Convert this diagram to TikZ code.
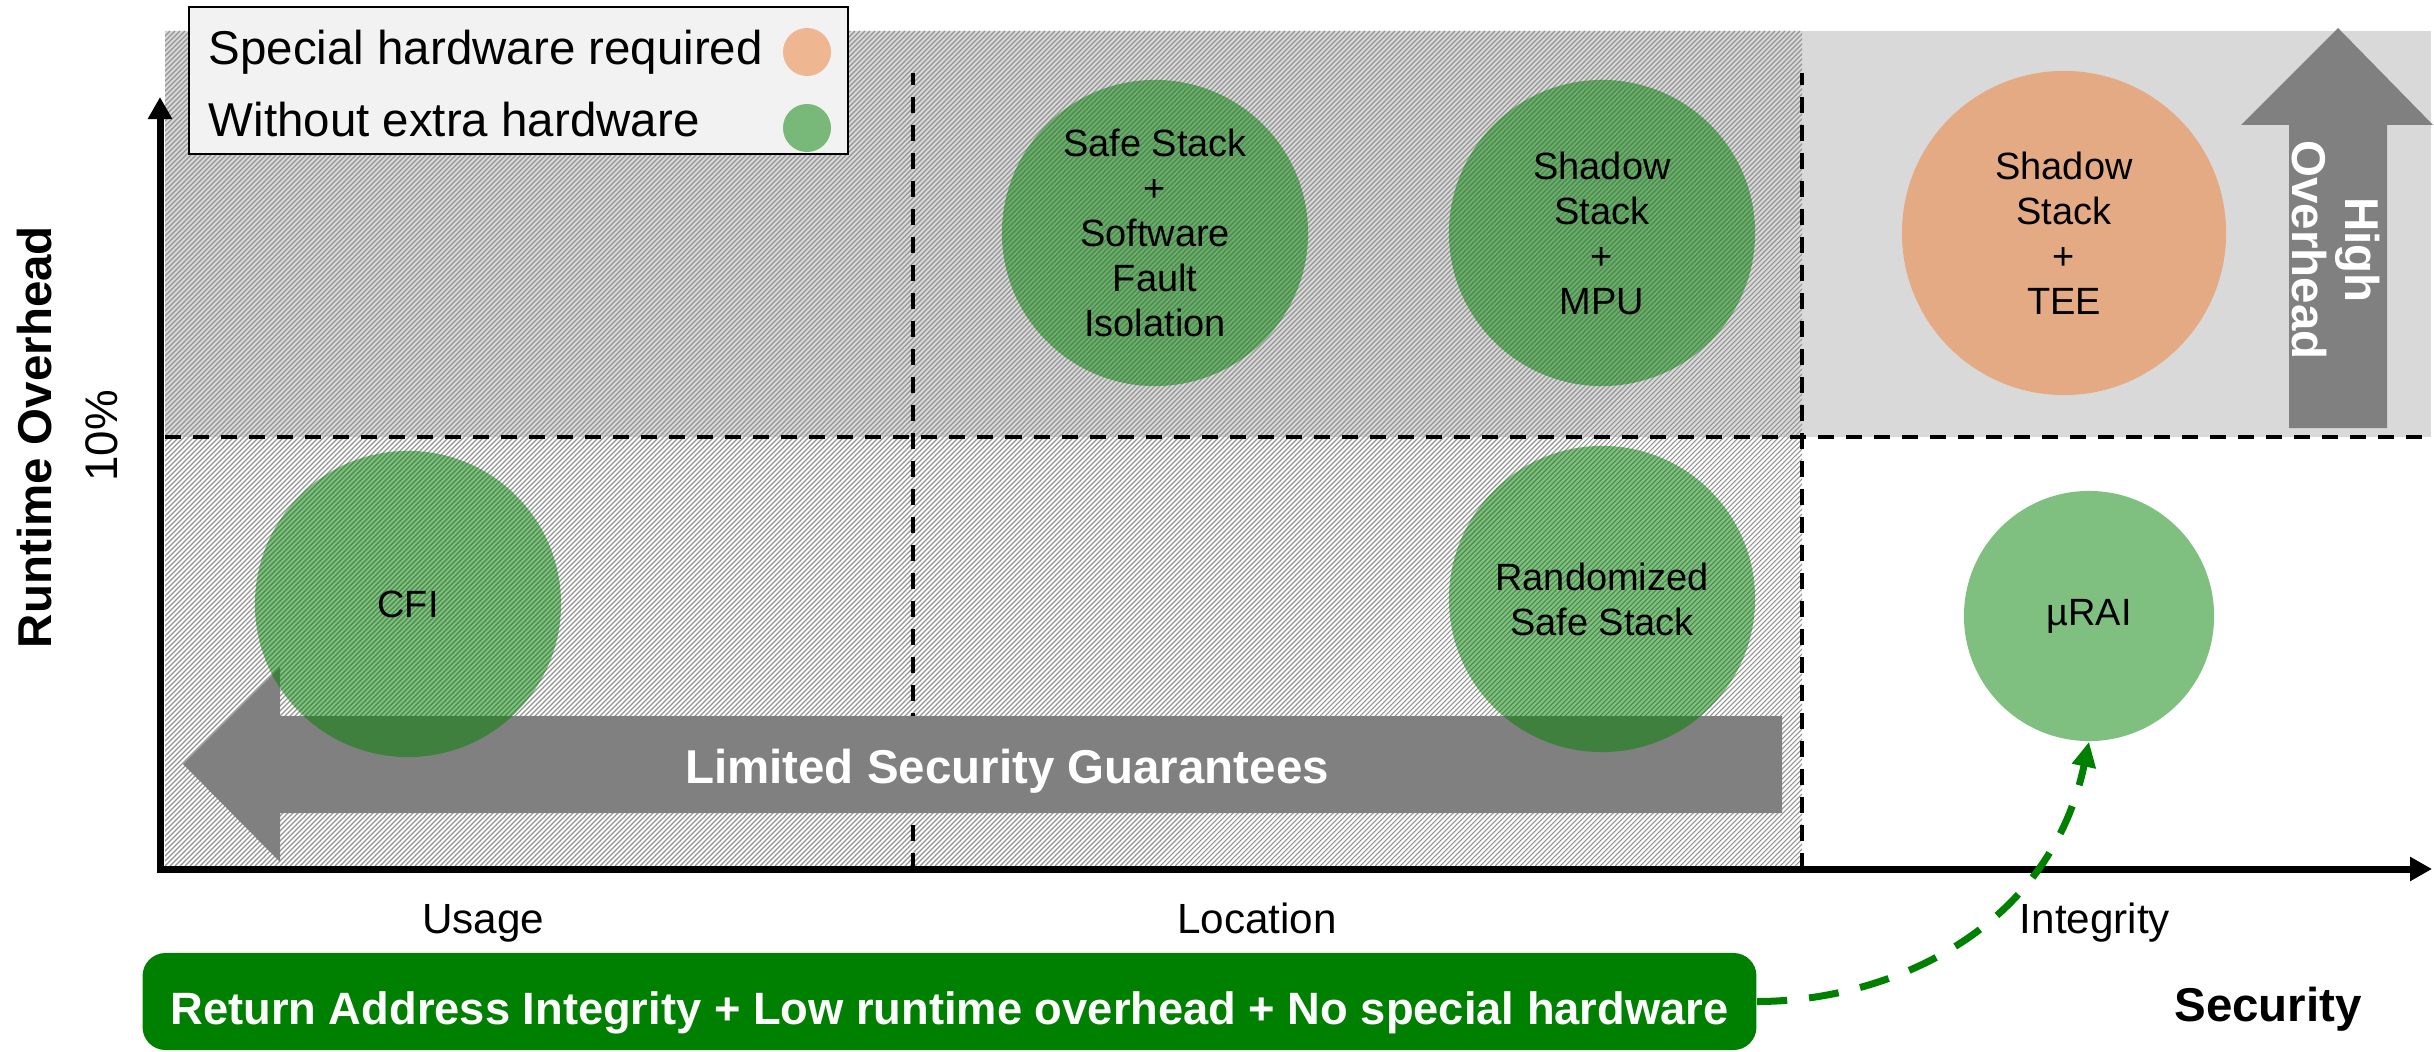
\documentclass[tikz,border=0pt]{standalone}
\usepackage{fontspec}
\setmainfont{Liberation Sans}
\usetikzlibrary{arrows.meta}

\definecolor{schemegreen}{HTML}{008000}
\definecolor{schemeorange}{HTML}{ED7D31}
\definecolor{panelgray}{HTML}{D9D9D9}
\definecolor{legendgray}{HTML}{F2F2F2}
\definecolor{arrowgray}{HTML}{808080}

\newcommand\legendfont{\fontsize{13.5}{16}\selectfont}
\newcommand\circfont{\fontsize{10.8}{12.8}\selectfont}
\newcommand\tickfont{\fontsize{12}{14}\selectfont}
\newcommand\rabfont{\fontsize{12.88}{15}\selectfont}

\tikzset{
  hatchline/.style={black!42, line width=0.011cm},
  divider/.style={black, line width=0.04cm, dash pattern=on 0.16cm off 0.12cm},
  axisline/.style={black, line width=0.07cm,
    {Triangle[length=0.22cm,width=0.23cm]}-{Triangle[length=0.22cm,width=0.23cm]}},
  scheme/.style={circle, inner sep=0pt, minimum size=3.06cm, fill=schemegreen,
    fill opacity=0.5, text opacity=1, align=center, font=\circfont},
  bannertext/.style={white, font=\legendfont\bfseries, inner sep=0pt},
  plain/.style={inner sep=0pt, font=\legendfont},
  dot/.style={circle, inner sep=0pt, minimum size=0.48cm, fill opacity=0.5},
  link/.style={schemegreen, line width=0.07cm, dash pattern=on 0.3cm off 0.22cm,
    -{Triangle[length=0.25cm,width=0.23cm]}},
}

\begin{document}
\begin{tikzpicture}[x=0.01cm, y=-0.01cm]
\useasboundingbox (0,0) rectangle (2434,1052);

% high-overhead band
\fill[panelgray] (165,31) rectangle (2431,437);

% hatched area: techniques without full integrity
\begin{scope}
  \clip (165,31) rectangle (1802,866);
  \foreach \k in {-675,-670,...,1805}
    \draw[hatchline] (\k,866) -- ++(835,-835);
\end{scope}

% quadrant dividers
\draw[divider] (165,437) -- (2431,437);
\draw[divider] (913,869) -- (913,73);
\draw[divider] (1802,869) -- (1802,73);

% axes
\coordinate (ytip) at (160,97);
\coordinate (origin) at (160,869);
\coordinate (xtip) at (2432,869);
\draw[axisline] (ytip) -- (origin) -- (xtip);

% limited security arrow
\fill[arrowgray] (183,764) -- (280,667) -- (280,716) -- (1782,716) -- (1782,813)
  -- (280,813) -- (280,862) -- cycle;
\node[bannertext, anchor=base] (limited) at (1007,783) {Limited Security Guarantees};

% high overhead arrow
\fill[arrowgray] (2338,28) -- (2433,125) -- (2387,125) -- (2387,428) -- (2289,428)
  -- (2289,125) -- (2241,125) -- cycle;
\node[bannertext, rotate=-90, align=center, font=\fontsize{13.5}{15}\selectfont\bfseries]
  (high) at (2336,250) {High\\Overhead};

% schemes
\node[scheme] (sfi) at (1155,233) {Safe Stack\\+\\Software\\Fault\\Isolation};
\node[scheme] (ssmpu) at (1602,233) {Shadow\\Stack\\+\\MPU};
\node[scheme, fill=schemeorange, minimum size=3.24cm] (sstee) at (2064,233) {Shadow\\Stack\\+\\TEE};
\node[scheme] (cfi) at (408,604) {CFI};
\node[scheme] (rss) at (1602,599) {Randomized\\Safe Stack};
\node[scheme, minimum size=2.5cm] (urai) at (2089,616) {µRAI};

% legend
\node[draw=black, line width=0.02cm, fill=legendgray, minimum width=6.59cm,
  minimum height=1.47cm, inner sep=0pt] (legend) at (518.5,80.5) {};
\node[plain, anchor=base west] (hwtext) at (208,65) {Special hardware required};
\node[plain, anchor=base west] (nohwtext) at (208,137) {Without extra hardware};
\node[dot, fill=schemeorange] (hwdot) at (807,52) {};
\node[dot, fill=schemegreen] (nohwdot) at (807,128) {};

% axis labels
\node[plain, font=\legendfont\bfseries, rotate=90] (ylabel) at (35,437) {Runtime Overhead};
\node[plain, font=\fontsize{13}{15}\selectfont, rotate=90] (tenpct) at (102,436) {10\%};
\node[plain, font=\tickfont, anchor=base] (usage) at (483,933) {Usage};
\node[plain, font=\tickfont, anchor=base] (location) at (1257,933) {Location};
\node[plain, font=\tickfont, anchor=base] (integrity) at (2095,933) {Integrity};
\node[plain, font=\legendfont\bfseries, anchor=base] (security) at (2268,1021) {Security};

% goal statement
\node[fill=schemegreen, rounded corners=0.23cm, minimum width=16.13cm, minimum height=0.97cm,
  inner sep=0pt, text=white, font=\rabfont\bfseries, text height=0.45cm, text depth=0pt]
  (rab) at (949.5,1001.5) {Return Address Integrity + Low runtime overhead + No special hardware};

\draw[link] (rab.east) .. controls +(130,0) and +(-40,190) .. (urai.south);
\end{tikzpicture}
\end{document}
